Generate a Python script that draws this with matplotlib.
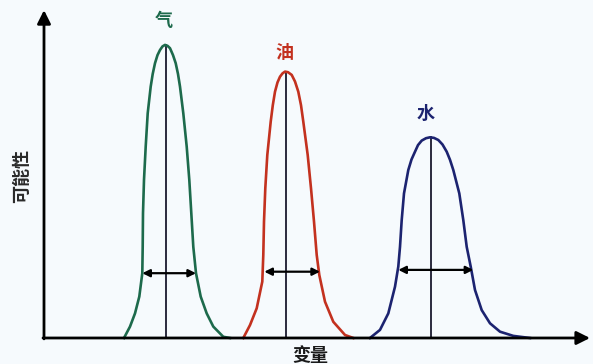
import numpy as np
import matplotlib
matplotlib.use("Agg")
import matplotlib.pyplot as plt

plt.rcParams['font.family'] = ['Noto Sans CJK SC', 'DejaVu Sans']

# curve points (x = variable, y = likelihood)
gas_x = [8.0, 8.6, 9.1, 9.53, 9.83, 9.87, 9.9, 10.0, 10.17, 10.37, 10.67, 10.87, 11.1, 11.35, 11.6,
         11.85, 12.1, 12.35, 12.6, 12.9, 13.17, 13.4, 13.6, 13.93, 14.27, 14.53, 14.73, 14.93,
         15.2, 15.67, 16.27, 16.93, 17.93, 18.6]
gas_y = [0.0, 0.038, 0.082, 0.138, 0.216, 0.304, 0.416, 0.527, 0.638, 0.749, 0.838, 0.880, 0.916, 0.943, 0.960,
         0.972, 0.977, 0.974, 0.966, 0.943, 0.916, 0.880, 0.838, 0.749, 0.638, 0.527, 0.416, 0.304,
         0.216, 0.138, 0.082, 0.038, 0.004, 0.0]

oil_x = [19.93, 20.6, 21.27, 21.83, 21.93, 22.0, 22.13, 22.33, 22.67, 22.88, 23.1, 23.35, 23.6, 23.85, 24.1,
         24.4, 24.77, 25.1, 25.43, 25.7, 25.93, 26.37, 26.7, 27.0, 27.27, 27.53, 28.1, 28.93, 30.1, 30.93]
oil_y = [0.0, 0.043, 0.099, 0.188, 0.277, 0.388, 0.499, 0.610, 0.721, 0.776, 0.821, 0.852, 0.871, 0.882, 0.888,
         0.886, 0.877, 0.855, 0.821, 0.776, 0.721, 0.610, 0.499, 0.388, 0.277, 0.210, 0.121, 0.054, 0.010, 0.0]

water_x = [32.6, 33.6, 34.43, 35.1, 35.43, 35.6, 35.77, 36.0, 36.43, 36.75, 37.1, 37.4, 37.77, 38.2, 38.6,
           39.0, 39.43, 39.85, 40.27, 40.6, 40.93, 41.53, 41.93, 42.27, 42.67, 43.1, 43.77, 44.6, 45.6,
           46.93, 48.6]
water_y = [0.0, 0.027, 0.082, 0.171, 0.238, 0.304, 0.393, 0.482, 0.560, 0.595, 0.621, 0.643, 0.658, 0.666, 0.669,
           0.667, 0.660, 0.645, 0.621, 0.594, 0.560, 0.482, 0.393, 0.304, 0.238, 0.160, 0.093, 0.049, 0.021,
           0.007, 0.0]

labels = ['气', '油', '水']
centers = [12.17, 24.17, 38.7]
peaks = [0.977, 0.888, 0.669]
width_y = [0.216, 0.221, 0.227]
width_left = [9.83, 22.03, 35.43]
width_right = [15.2, 27.6, 42.93]
colors = ['#1d6a4c', '#c3311f', '#1c2370']
label_pos = [(12.0, 1.057), (24.0, 0.953), (38.2, 0.75)]

fig = plt.figure(figsize=(5.93, 3.64), dpi=100)
fig.patch.set_facecolor('#f6fafd')
ax = fig.add_axes([0, 0, 1, 1])
ax.set_facecolor('#f6fafd')
ax.set_xlim(-4.4, 54.9)
ax.set_ylim(-0.0867, 1.1267)
ax.axis('off')

curves = [(gas_x, gas_y), (oil_x, oil_y), (water_x, water_y)]
for i, (cx, cy) in enumerate(curves):
    ax.plot(cx, cy, color=colors[i], lw=1.9, solid_joinstyle='round', zorder=3)
    # center line
    ax.plot([centers[i], centers[i]], [0, peaks[i]], color='#1a1a2e', lw=1.3, zorder=2)
    # width arrow
    ax.annotate('', xy=(width_right[i], width_y[i]), xytext=(width_left[i], width_y[i]),
                arrowprops=dict(arrowstyle='<|-|>', color='black', lw=1.6,
                                mutation_scale=11, shrinkA=0, shrinkB=0), zorder=4)
    ax.text(label_pos[i][0], label_pos[i][1], labels[i], color=colors[i], fontsize=13,
            fontweight='bold', ha='center', va='center')

# axes with arrows
ax.annotate('', xy=(0, 1.093), xytext=(0, -0.003),
            arrowprops=dict(arrowstyle='-|>', color='black', lw=2,
                            mutation_scale=20, shrinkA=0, shrinkB=0))
ax.annotate('', xy=(54.6, 0), xytext=(-0.1, 0),
            arrowprops=dict(arrowstyle='-|>', color='black', lw=2,
                            mutation_scale=20, shrinkA=0, shrinkB=0))

ax.text(-2.2, 0.54, '可能性', rotation=90, fontsize=13, color='#2a2a2a',
        fontweight='bold', ha='center', va='center')
ax.text(26.6, -0.06, '变量', fontsize=13, color='#1a1a1a',
        fontweight='bold', ha='center', va='center')

fig.savefig('out.png', dpi=100, facecolor=fig.get_facecolor())
